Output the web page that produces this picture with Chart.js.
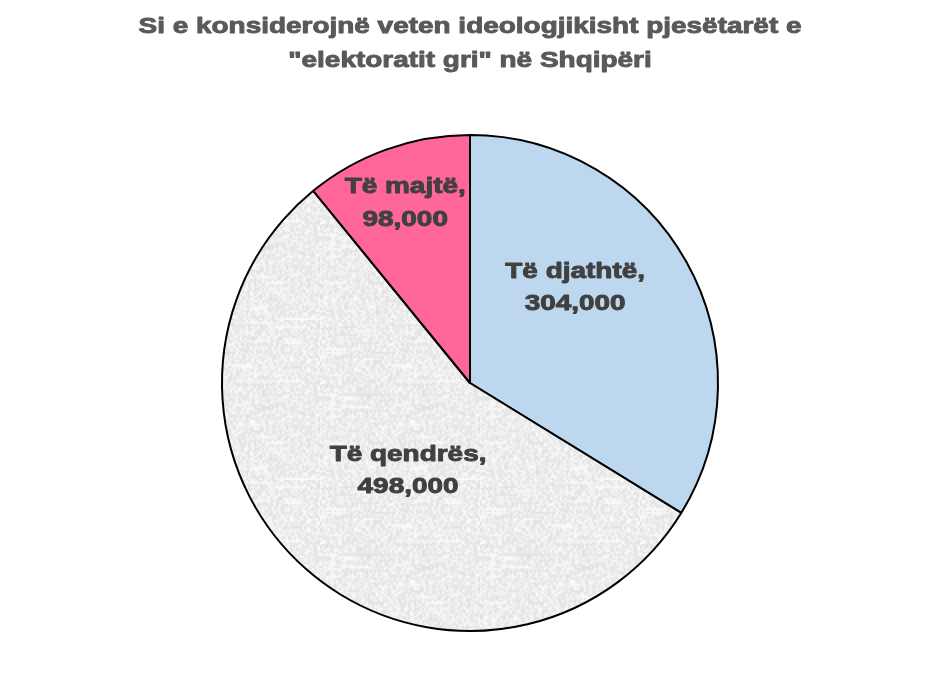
<!DOCTYPE html>
<html><head><meta charset="utf-8">
<script src="https://cdn.jsdelivr.net/npm/chart.js@4.4.1/dist/chart.umd.min.js"></script>
<style>html,body{margin:0;padding:0;background:#fff;overflow:hidden}#wrap{width:940px;height:678px}</style>
</head><body><div id="wrap"><canvas id="c" width="940" height="678"></canvas></div>
<script>
const titleLines = ['Si e konsiderojnë veten ideologjikisht pjesëtarët e', '"elektoratit gri" në Shqipëri'];
const categories = ['Të djathtë', 'Të qendrës', 'Të majtë'];
const values = [304000, 498000, 98000];

// style (not data)
const FONT = 'bold 22px "Liberation Sans", Arial, sans-serif';
const STRETCH = 1.27;
const labelPlace = [ {dAng: -13.5, rf: 0.577}, {dAng: -5.3, rf: 0.426}, {dAng: 0, rf: 0.779} ];

function makeNoise() {
  const small = document.createElement('canvas');
  small.width = 80; small.height = 80;
  const sc = small.getContext('2d');
  const img = sc.createImageData(80, 80);
  let s = 12345;
  for (let i = 0; i < 80 * 80; i++) {
    s = (s * 1103515245 + 12345) & 0x7fffffff;
    const v = 222 + ((s >> 8) % 32);
    img.data[i*4] = v; img.data[i*4+1] = v; img.data[i*4+2] = v; img.data[i*4+3] = 255;
  }
  sc.putImageData(img, 0, 0);
  const big = document.createElement('canvas');
  big.width = 160; big.height = 160;
  const bc = big.getContext('2d');
  bc.imageSmoothingEnabled = true;
  bc.drawImage(small, 0, 0, 160, 160);
  return bc.createPattern(big, 'repeat');
}

function stretchedText(ctx, text, x, y) {
  ctx.save();
  ctx.translate(x, y);
  ctx.scale(STRETCH, 1);
  ctx.strokeText(text, 0, 0);
  ctx.fillText(text, 0, 0);
  ctx.restore();
}

const titlePlugin = {
  id: 'stretchTitle',
  afterDraw(chart) {
    const ctx = chart.ctx;
    ctx.save();
    ctx.font = FONT;
    ctx.fillStyle = '#595959';
    ctx.strokeStyle = '#595959';
    ctx.lineWidth = 0.9;
    ctx.lineJoin = 'round';
    ctx.textAlign = 'center';
    ctx.textBaseline = 'alphabetic';
    const cx = chart.width / 2;
    titleLines.forEach((t, i) => stretchedText(ctx, t, cx, 33 + i * 34));
    ctx.restore();
  }
};

const labelPlugin = {
  id: 'sliceLabels',
  afterDatasetsDraw(chart) {
    const ctx = chart.ctx;
    const meta = chart.getDatasetMeta(0);
    ctx.save();
    ctx.font = FONT;
    ctx.fillStyle = '#404040';
    ctx.strokeStyle = '#404040';
    ctx.lineWidth = 0.9;
    ctx.lineJoin = 'round';
    ctx.textAlign = 'center';
    ctx.textBaseline = 'alphabetic';
    meta.data.forEach((arc, i) => {
      const p = arc.getProps(['x', 'y', 'startAngle', 'endAngle', 'outerRadius'], true);
      const mid = (p.startAngle + p.endAngle) / 2 + labelPlace[i].dAng * Math.PI / 180;
      const r = p.outerRadius * labelPlace[i].rf;
      const lx = p.x + Math.cos(mid) * r;
      const ly = p.y + Math.sin(mid) * r;
      stretchedText(ctx, chart.data.labels[i] + ',', lx, ly - 8);
      stretchedText(ctx, values[i].toLocaleString('en-US'), lx, ly + 24.5);
    });
    ctx.restore();
  }
};

const ctx = document.getElementById('c').getContext('2d');
new Chart(ctx, {
  type: 'pie',
  data: {
    labels: categories,
    datasets: [{
      data: values,
      backgroundColor: ['#BDD7EE', makeNoise(), '#FF6699'],
      borderColor: '#000000',
      borderWidth: 2,
      hoverOffset: 0,
      offset: 0
    }]
  },
  options: {
    responsive: false,
    animation: false,
    devicePixelRatio: 1,
    layout: { padding: { top: 134, bottom: 46, left: 0, right: 0 } },
    plugins: { legend: { display: false }, tooltip: { enabled: false }, title: { display: false } }
  },
  plugins: [titlePlugin, labelPlugin]
});
</script>
</body></html>
